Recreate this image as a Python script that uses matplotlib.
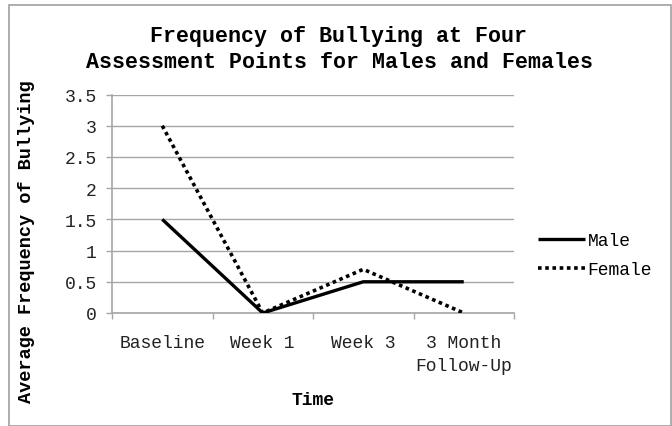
import matplotlib
matplotlib.use("Agg")
import matplotlib.pyplot as plt
from matplotlib.patches import Rectangle

categories = ["Baseline", "Week 1", "Week 3", "3 Month\nFollow-Up"]
male = [1.5, 0.0, 0.5, 0.5]
female = [3.0, 0.0, 0.7, 0.0]
yticks = [0, 0.5, 1, 1.5, 2, 2.5, 3, 3.5]
ytick_labels = ["0", "0.5", "1", "1.5", "2", "2.5", "3", "3.5"]

W, H = 672, 427
fig = plt.figure(figsize=(W / 100, H / 100), dpi=100)
FONT = "Liberation Mono"
plt.rcParams["font.family"] = FONT

ax = fig.add_axes([112 / W, 1 - 314 / H, (514 - 112) / W, (314 - 95.5) / H])

x = list(range(len(categories)))
ax.plot(x, male, color="black", lw=2.4, solid_capstyle="butt", label="Male", zorder=3)
ax.plot(x, female, color="black", lw=2.6, linestyle=(0, (1, 1.0)),
        dash_capstyle="butt", label="Female", zorder=3)

ax.set_xlim(-0.5, len(categories) - 0.5)
ax.set_ylim(0, 3.5)
ax.set_yticks(yticks)
ax.set_yticklabels(ytick_labels)
ax.set_xticks([i - 0.5 for i in range(len(categories) + 1)], minor=False)
ax.set_xticklabels([])
ax.set_xticks(x, minor=True)
ax.set_xticklabels(categories, minor=True)

grid_c = "#a6a6a6"
ax.grid(axis="y", color=grid_c, lw=1.0)
ax.set_axisbelow(True)
for s in ["top", "right"]:
    ax.spines[s].set_visible(False)
for s in ["left", "bottom"]:
    ax.spines[s].set_color(grid_c)
    ax.spines[s].set_linewidth(1.2)

ax.tick_params(axis="y", which="major", length=4, width=1, color=grid_c,
               labelsize=13, pad=7, labelcolor="#222222")
ax.tick_params(axis="x", which="major", length=4.5, width=1, color=grid_c, direction="out")
ax.tick_params(axis="x", which="minor", length=0, labelsize=13, pad=15, labelcolor="#222222")
for lab in ax.get_xticklabels(minor=True):
    lab.set_linespacing(1.45)

ax.set_xlabel("")
fig.text(313 / W, 1 - 401 / H, "Time", ha="center", va="center",
         fontsize=13, fontweight="bold", family=FONT)
fig.text(27 / W, 1 - 242 / H, "Average Frequency of Bullying", ha="center", va="center",
         rotation=90, fontsize=13.4, fontweight="bold", family=FONT)

fig.text(339 / W, 1 - 49.5 / H,
         "Frequency of Bullying at Four\nAssessment Points for Males and Females",
         ha="center", va="center", fontsize=15.6, fontweight="bold",
         linespacing=1.3, family=FONT)

leg = ax.legend(loc="center left", bbox_to_anchor=(538 / W, 1 - 256 / H),
                bbox_transform=fig.transFigure, frameon=False,
                fontsize=13, handlelength=2.6, handletextpad=0.15,
                labelspacing=0.65, borderpad=0, borderaxespad=0)

fig.patches.append(Rectangle((9 / W, 0), (671 - 9) / W, 1 - 6 / H,
                             transform=fig.transFigure, fill=False,
                             edgecolor="#a0a0a0", lw=1.2))

fig.savefig("out.png", dpi=100)
